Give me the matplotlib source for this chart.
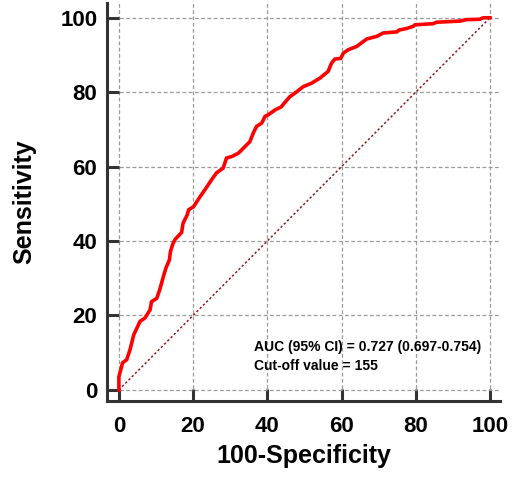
import matplotlib
matplotlib.use("Agg")
import matplotlib.pyplot as plt

plt.rcParams["font.family"] = ["Liberation Sans", "DejaVu Sans"]

# ROC curve (100-Specificity, Sensitivity)
fpr = [0, 0, 0.5, 1, 2.1, 3, 4, 5.7, 7, 8.4, 8.8, 10.2, 11, 12, 12.7, 13.6, 13.9,
       14.6, 15.2, 16.9, 17.3, 18.4, 18.8, 20.1, 21.8, 23.2, 25, 26.3, 28.1, 29,
       30.4, 32.2, 33.5, 35.3, 36.2, 37.1, 38.5, 39.4, 40.2, 42.2, 43.7, 45.2,
       46.1, 47.5, 49.7, 51.9, 54.2, 56.4, 57.3, 58.2, 59.8, 60.5, 61.8, 64.1,
       66.8, 69.5, 71.2, 74.9, 75.5, 77.5, 79.3, 79.8, 84.7, 85.6, 91.9, 93.7,
       97.3, 98.2, 100]
tpr = [0, 3.5, 5.4, 7.3, 8.1, 10.8, 14.8, 18.4, 19.3, 21.5, 23.7, 24.6, 26.9,
       30.5, 32.8, 34.9, 37.2, 39.4, 40.5, 42.3, 44.8, 47, 48.4, 49.2, 51.8, 53.8,
       56.5, 58.3, 59.6, 62.3, 62.7, 63.6, 64.9, 66.7, 69, 70.8, 71.7, 73.5, 73.9,
       75.3, 76, 77.8, 78.8, 79.8, 81.5, 82.4, 83.8, 85.6, 87.8, 88.9, 89.1, 90.5,
       91.4, 92.3, 94.3, 95, 95.9, 96.2, 96.7, 97.1, 97.7, 98.1, 98.4, 98.8, 99.1,
       99.5, 99.6, 100, 100]
ticks = [0, 20, 40, 60, 80, 100]
auc_text = "AUC (95% CI) = 0.727 (0.697-0.754)\nCut-off value = 155"

fig = plt.figure(figsize=(5.13, 4.78), dpi=100)
ax = fig.add_axes([0.2086, 0.161, 0.766, 0.833])

ax.plot([0, 100], [0, 100], color="#8b1a1a", lw=1.1, ls=(0, (1.5, 1.5)), zorder=2)
ax.plot(fpr, tpr, color="#ff0000", lw=2.6, solid_joinstyle="miter", zorder=3)

ax.set_xlim(-3.2, 102.7)
ax.set_ylim(-3.0, 104)
ax.set_xticks(ticks)
ax.set_yticks(ticks)
ax.grid(True, color="#999999", ls=(0, (3, 2)), lw=0.9, zorder=0)
ax.set_axisbelow(True)

for side in ("top", "right"):
    ax.spines[side].set_visible(False)
for side in ("left", "bottom"):
    ax.spines[side].set_linewidth(2.2)
    ax.spines[side].set_color("#333333")
ax.tick_params(direction="in", length=8.6, width=2.2, color="#333333",
               labelsize=16)
ax.tick_params(axis="x", pad=11)
ax.tick_params(axis="y", pad=7)
for lab in ax.get_xticklabels() + ax.get_yticklabels():
    lab.set_fontweight("bold")

ax.set_xlabel("100-Specificity", fontsize=18, fontweight="bold", labelpad=5)
ax.set_ylabel("Sensitivity", fontsize=18, fontweight="bold", labelpad=17)

ax.text(36.5, 9.0, auc_text, fontsize=10, fontweight="bold", linespacing=1.4,
        va="center", ha="left")

fig.savefig("out.png", dpi=100)
